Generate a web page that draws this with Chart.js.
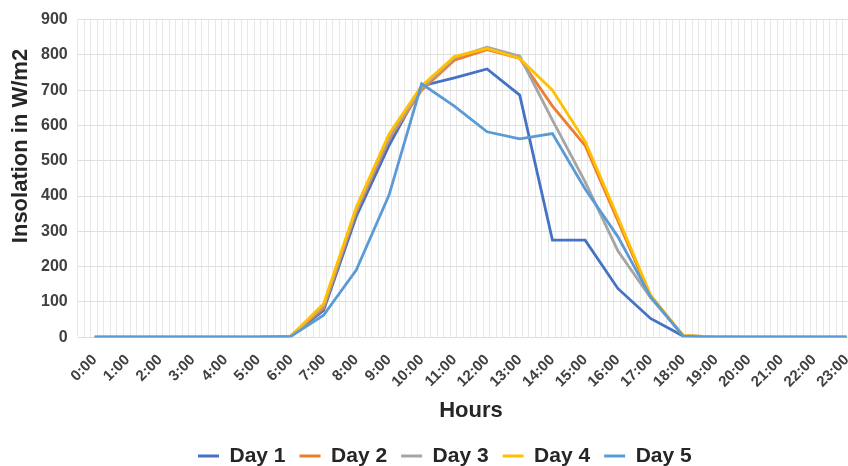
<!DOCTYPE html>
<html>
<head>
<meta charset="utf-8">
<script src="https://cdn.jsdelivr.net/npm/chart.js@4/dist/chart.umd.min.js"></script>
<style>
  html, body { margin: 0; padding: 0; background: #ffffff; }
  #wrap { width: 848px; height: 466px; position: relative; }
</style>
</head>
<body>
<div id="wrap"><canvas id="c" width="848" height="466"></canvas></div>
<script>
const hourLabels = ["0:00","1:00","2:00","3:00","4:00","5:00","6:00","7:00","8:00","9:00","10:00","11:00",
                    "12:00","13:00","14:00","15:00","16:00","17:00","18:00","19:00","20:00","21:00","22:00","23:00"];
const seriesNames = ["Day 1","Day 2","Day 3","Day 4","Day 5"];
const day1 = [0,0,0,0,0,0,3,76,342,543,712,735,760,686,275,275,138,53,3,0,0,0,0,0];
const day2 = [0,0,0,0,0,0,3,82,355,560,700,785,815,790,655,543,330,115,4,1,0,0,0,0];
const day3 = [0,0,0,0,0,0,3,88,360,565,705,792,822,796,615,440,245,112,4,1,0,0,0,0];
const day4 = [0,0,0,0,0,0,3,95,368,575,712,795,818,790,700,555,340,120,4,1,0,0,0,0];
const day5 = [0,0,0,0,0,0,2,62,190,402,718,655,582,562,577,420,285,115,3,0,0,0,0,0];
const yTicks = [0,100,200,300,400,500,600,700,800,900];
const yTitle = "Insolation in W/m2";
const xTitle = "Hours";
const colors = ["#4472C4","#ED7D31","#A5A5A5","#FFC000","#5B9BD5"];

const X_MIN = -0.52, X_MAX = 23.04, MINOR = 0.2;
const FONT = "'Liberation Sans', Arial, sans-serif";

const allSeries = [day1, day2, day3, day4, day5];
const datasets = allSeries.map((vals, i) => ({
  label: seriesNames[i],
  data: vals.map((v, h) => ({ x: h, y: v })),
  borderColor: colors[i],
  backgroundColor: colors[i],
  borderWidth: 2.8,
  pointRadius: 0,
  tension: 0,
  order: allSeries.length - i,
  xAxisID: 'x',
  yAxisID: 'y'
}));

const LEGEND_PAD = 14;
const placement = {
  id: 'placement',
  afterLayout(chart) {
    const lg = chart.legend;
    if (!lg || !lg.lineWidths) return;
    const start = (lg.left + LEGEND_PAD + lg.right - lg.lineWidths[0]) / 2;
    const dx = 198 - start;
    const dy = 456 - (lg.top + LEGEND_PAD + 10.5);
    lg.left += dx; lg.right += dx; lg.top += dy; lg.bottom += dy;
  },
  afterDraw(chart) {
    const ctx = chart.ctx;
    ctx.save();
    ctx.fillStyle = '#262626';
    ctx.font = "bold 22px " + FONT;
    ctx.textAlign = 'center';
    ctx.textBaseline = 'middle';
    ctx.fillText(xTitle, 471, 411);
    ctx.translate(21, 146);
    ctx.rotate(-Math.PI / 2);
    ctx.fillText(yTitle, 0, 0);
    ctx.restore();
  }
};

new Chart(document.getElementById('c'), {
  type: 'line',
  data: { datasets },
  plugins: [placement],
  options: {
    responsive: false,
    animation: false,
    devicePixelRatio: 1,
    layout: { padding: { left: 31, right: 0, top: 4, bottom: 16 } },
    plugins: {
      tooltip: { enabled: false },
      legend: {
        position: 'bottom',
        labels: {
          font: { family: FONT, size: 21, weight: 'bold' },
          color: '#262626',
          boxWidth: 21,
          boxHeight: 3,
          padding: LEGEND_PAD,
          sort: (a, b) => a.datasetIndex - b.datasetIndex,
          generateLabels: (chart) => {
            const items = Chart.defaults.plugins.legend.labels.generateLabels(chart);
            items.forEach(it => { it.lineWidth = 0; });
            return items;
          }
        }
      }
    },
    scales: {
      x: {
        type: 'linear',
        position: 'bottom',
        min: X_MIN,
        max: X_MAX,
        afterBuildTicks: (scale) => { scale.ticks = hourLabels.map((_, i) => ({ value: i })); },
        afterFit: (scale) => { scale.paddingLeft = 0; scale.paddingRight = 0; },
        grid: { display: false, drawTicks: false },
        border: { display: false },
        ticks: {
          autoSkip: false,
          minRotation: 45,
          maxRotation: 45,
          padding: 14,
          color: '#404040',
          font: { family: FONT, size: 15, weight: 'bold' },
          callback: (v) => hourLabels[Math.round(v)]
        },
        title: { display: false }
      },
      xg: {
        type: 'linear',
        position: 'bottom',
        min: X_MIN,
        max: X_MAX,
        afterBuildTicks: (scale) => {
          const t = [];
          for (let k = 0; X_MIN + k * MINOR <= X_MAX + 1e-9; k++) t.push({ value: X_MIN + k * MINOR });
          scale.ticks = t;
        },
        grid: { display: true, drawTicks: false, color: '#e8e8e8', lineWidth: 1 },
        border: { display: false },
        ticks: { display: false }
      },
      y: {
        type: 'linear',
        min: 0,
        max: 900,
        afterBuildTicks: (scale) => { scale.ticks = yTicks.map(v => ({ value: v })); },
        grid: { color: '#dedede', drawTicks: false, lineWidth: 1 },
        border: { display: false },
        ticks: {
          padding: 10,
          color: '#404040',
          font: { family: FONT, size: 16, weight: 'bold' }
        },
        title: { display: false }
      }
    }
  }
});
</script>
</body>
</html>
